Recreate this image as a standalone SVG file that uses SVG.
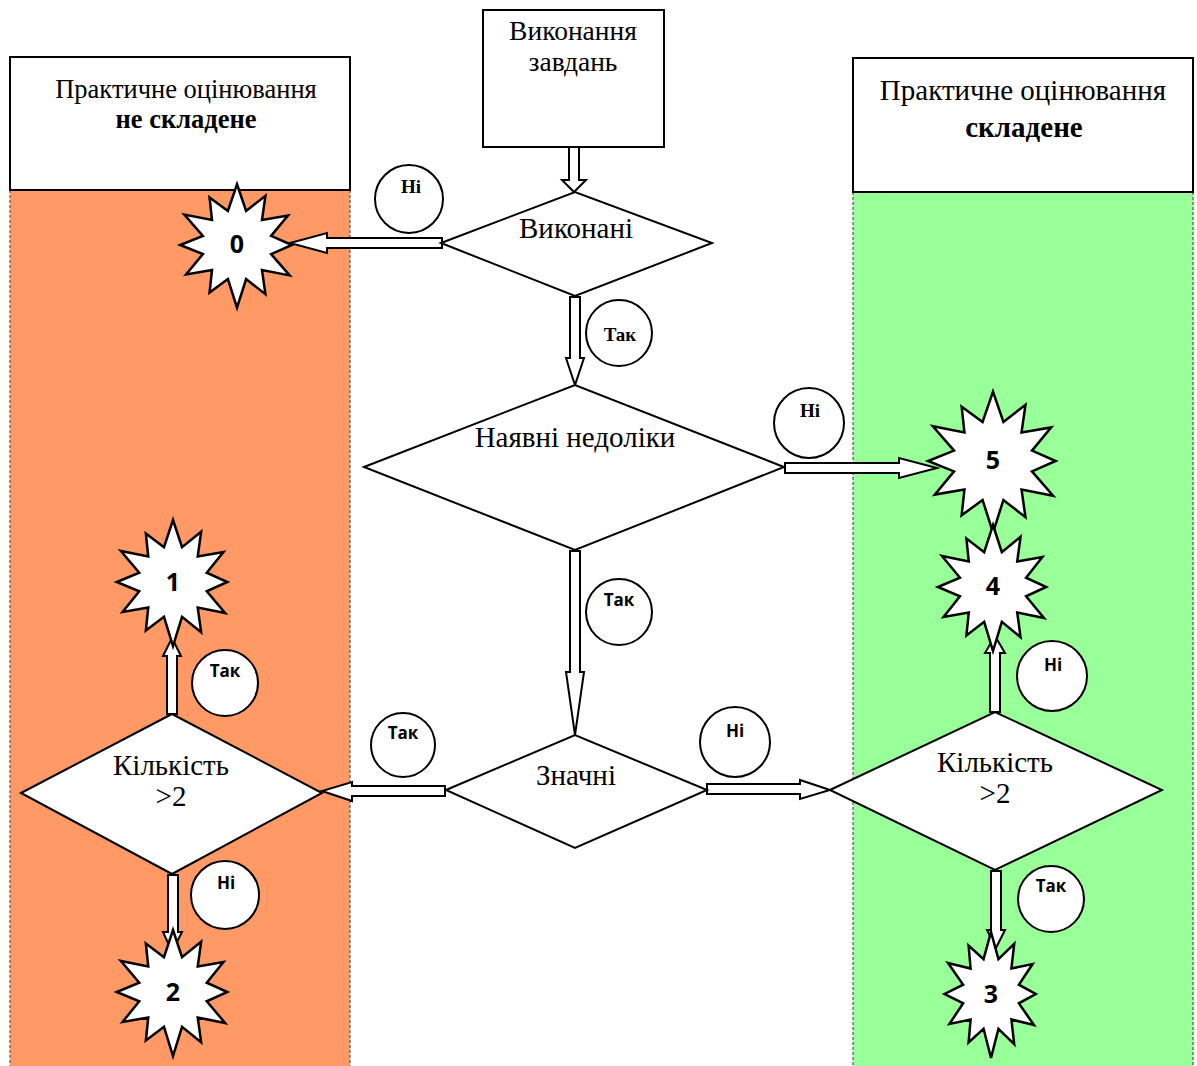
<svg xmlns="http://www.w3.org/2000/svg" xmlns:xlink="http://www.w3.org/1999/xlink" width="1197" height="1066" viewBox="0 0 1197 1066">
<style>
.hdr{fill:#fff;stroke:#000;stroke-width:2}
.col{stroke:#555;stroke-width:1.2;stroke-dasharray:3,2}
.dia{fill:#fff;stroke:#000;stroke-width:2}
.lbl{fill:#fff;stroke:#000;stroke-width:2}
.arr{fill:#fff;stroke:#000;stroke-width:2;stroke-linejoin:miter}
.star{fill:#fff;stroke:#000;stroke-width:2.5;stroke-linejoin:miter;vector-effect:non-scaling-stroke}
.t{font-family:"Liberation Serif","Times New Roman",serif;font-size:29px;fill:#000;text-anchor:middle}
.t26{font-size:26.5px}
.t27{font-size:27.5px}
.tb{font-weight:bold}
.ct{font-family:"Liberation Serif","Times New Roman",serif;font-size:19px;font-weight:bold;fill:#000;text-anchor:middle}
.cs{font-family:"Open Sans","Liberation Sans",sans-serif;font-size:17px;font-weight:bold;fill:#000;text-anchor:middle}
.num{font-family:"Open Sans","Liberation Sans",sans-serif;font-size:25px;font-weight:bold;fill:#000;text-anchor:middle}
</style>
<defs>
<polygon id="star" class="star" points="0,-62 9.3,-34.8 29,-50.2 25.5,-25.5 52,-30 34.8,-9.3 56,0 34.8,9.3 53.7,31 25.5,25.5 29,50.2 9.3,34.8 0,64 -9.3,34.8 -28,48.5 -25.5,25.5 -52,30 -34.8,9.3 -58,0 -34.8,-9.3 -53.7,-31 -25.5,-25.5 -28,-48.5 -9.3,-34.8"/>
</defs>
<rect width="1197" height="1066" fill="#fff"/>

<g id="col-left">
<rect x="10" y="190" width="340" height="876" fill="#FF9966"/>
<line class="col" x1="10" y1="190" x2="10" y2="1066"/>
<line class="col" x1="350" y1="190" x2="350" y2="1066"/>
<rect class="hdr" x="10" y="57" width="340" height="133"/>
<text class="t t26" x="186" y="98">Практичне оцінювання</text>
<text class="t t26 tb" x="186" y="128">не складене</text>
</g>

<g id="col-right">
<rect x="853" y="192" width="340" height="874" fill="#99FF99"/>
<line class="col" x1="853" y1="192" x2="853" y2="1066"/>
<line class="col" x1="1193" y1="192" x2="1193" y2="1066"/>
<rect class="hdr" x="853" y="58" width="340" height="134"/>
<text class="t" x="1023" y="100">Практичне оцінювання</text>
<text class="t tb" x="1024" y="137">складене</text>
</g>

<g id="connectors">
<polygon class="arr" stroke="#444" points="569,147 579,147 579,180 586,180 574,192 562,180 569,180"/>
<polygon class="arr" points="442,238 442,248 327,248 327,253 290,243 327,233 327,238"/>
<polygon class="arr" points="570,297 580,297 580,358 584,358 575,385 566,358 570,358"/>
<polygon class="arr" points="785,463 899,463 899,458 937,468 899,478 899,473 785,473"/>
<polygon class="arr" points="570,551 580,551 580,672 584,672 575,735 566,672 570,672"/>
<polygon class="arr" points="445,786 445,796 352,796 352,801 322,791 352,782 352,786"/>
<polygon class="arr" points="707,784 800,784 800,780 830,790 800,799 800,794 707,794"/>
<polygon class="arr" points="167,714 177,714 177,656 181,656 172,638 163,656 167,656"/>
<polygon class="arr" points="168,875 178,875 178,932 182,932 172,952 163,932 168,932"/>
<polygon class="arr" points="990,712 1000,712 1000,653 1005,653 995,636 985,653 990,653"/>
<polygon class="arr" points="991,871 1001,871 1001,930 1005,930 996,948 987,930 991,930"/>
</g>

<g id="start">
<rect class="hdr" x="483" y="10" width="181" height="137"/>
<text class="t t27" x="573" y="40">Виконання</text>
<text class="t t27" x="573" y="71">завдань</text>
</g>

<g id="d-done">
<polygon class="dia" points="441,243 575,192 712,243 575,296"/>
<text class="t" x="576" y="238">Виконані</text>
</g>

<g id="d-flaws">
<polygon class="dia" points="364,467 575,385 784,467 575,550"/>
<text class="t" x="575" y="447">Наявні недоліки</text>
</g>

<g id="d-major">
<polygon class="dia" points="446,790 575,735 707,790 575,848"/>
<text class="t" x="576" y="785">Значні</text>
</g>

<g id="d-count-left">
<polygon class="dia" points="21,793 172,714 322,793 172,874"/>
<text class="t" x="171" y="775">Кількість</text>
<text class="t" x="171" y="806">&gt;2</text>
</g>

<g id="d-count-right">
<polygon class="dia" points="830,790 995,712 1162,790 995,870"/>
<text class="t" x="995" y="772">Кількість</text>
<text class="t" x="995" y="803">&gt;2</text>
</g>

<g id="s0"><use xlink:href="#star" href="#star" transform="translate(237,245) scale(0.98)"/><text class="num" x="237" y="253">0</text></g>
<g id="s5"><use xlink:href="#star" href="#star" transform="translate(993,461) scale(1.12)"/><text class="num" x="993" y="469">5</text></g>
<g id="s4"><use xlink:href="#star" href="#star" transform="translate(993,587) scale(0.95,1.0)"/><text class="num" x="993" y="595">4</text></g>
<g id="s1"><use xlink:href="#star" href="#star" transform="translate(173,582) scale(0.97,1.0)"/><text class="num" x="173" y="591">1</text></g>
<g id="s2"><use xlink:href="#star" href="#star" transform="translate(173,992) scale(0.97,1.0)"/><text class="num" x="173" y="1001">2</text></g>
<g id="s3"><use xlink:href="#star" href="#star" transform="translate(991,994) scale(0.8,1.0)"/><text class="num" x="991" y="1003">3</text></g>

<g id="c1"><circle class="lbl" cx="409" cy="199" r="34"/><text class="ct" x="411" y="193">Ні</text></g>
<g id="c2"><circle class="lbl" cx="619" cy="333" r="33"/><text class="ct" x="620" y="341">Так</text></g>
<g id="c3"><circle class="lbl" cx="809" cy="423" r="35"/><text class="ct" x="810" y="417">Ні</text></g>
<g id="c4"><circle class="lbl" cx="619" cy="612" r="33"/><text class="cs" x="619" y="606">Так</text></g>
<g id="c5"><circle class="lbl" cx="403" cy="745" r="32"/><text class="cs" x="403" y="739">Так</text></g>
<g id="c6"><circle class="lbl" cx="735" cy="742" r="35"/><text class="cs" x="735" y="737">Ні</text></g>
<g id="c7"><circle class="lbl" cx="225" cy="683" r="33"/><text class="cs" x="225" y="677">Так</text></g>
<g id="c8"><circle class="lbl" cx="225" cy="895" r="34"/><text class="cs" x="226" y="889">Ні</text></g>
<g id="c9"><circle class="lbl" cx="1052" cy="676" r="35"/><text class="cs" x="1053" y="671">Ні</text></g>
<g id="c10"><circle class="lbl" cx="1051" cy="899" r="33"/><text class="cs" x="1051" y="892">Так</text></g>
</svg>
